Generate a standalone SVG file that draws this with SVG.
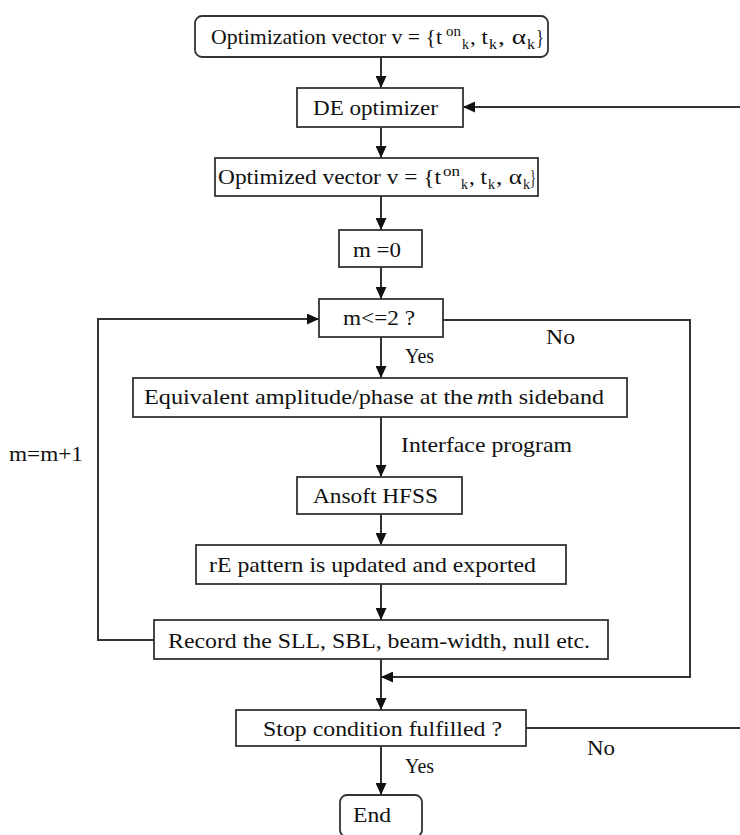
<svg xmlns="http://www.w3.org/2000/svg" width="740" height="835" viewBox="0 0 740 835">
<defs>
<marker id="ah" markerUnits="userSpaceOnUse" markerWidth="13" markerHeight="11" refX="12" refY="5.5" orient="auto">
<path d="M0,0 L12,5.5 L0,11 z" fill="#111"/>
</marker>
<style>
.box{fill:#fff;stroke:#333;stroke-width:1.8}
text{font-family:'Liberation Serif','DejaVu Serif',serif;fill:#111}
.t{font-size:22px}
.l{font-size:21px}
.sm{font-size:14px}
.c{fill:none;stroke:#333;stroke-width:2}
.a{marker-end:url(#ah)}
</style>
</defs>
<rect width="740" height="835" fill="#fff"/>
<g id="connectors">
<path class="c a" d="M381,57 V88"/>
<path class="c a" d="M740,107 H463"/>
<path class="c a" d="M381,127 V158"/>
<path class="c a" d="M381,196 V230"/>
<path class="c a" d="M381,267 V299"/>
<path class="c a" d="M381,337 V378"/>
<path class="c a" d="M381,417 V477"/>
<path class="c a" d="M381,514 V545"/>
<path class="c a" d="M381,584 V620"/>
<path class="c a" d="M381,659 V710"/>
<path class="c a" d="M154,640 H98 V319 H319"/>
<path class="c a" d="M443,320 H690 V677 H381"/>
<path class="c" d="M526,728 H740"/>
<path class="c a" d="M381,746 V795"/>
<text class="l" x="405" y="363" textLength="29" lengthAdjust="spacingAndGlyphs">Yes</text>
<text class="l" x="546" y="344" textLength="29" lengthAdjust="spacingAndGlyphs">No</text>
<text class="l" x="401" y="452" textLength="171" lengthAdjust="spacingAndGlyphs">Interface program</text>
<text class="l" x="9" y="461" textLength="74" lengthAdjust="spacingAndGlyphs">m=m+1</text>
<text class="l" x="405" y="773" textLength="29" lengthAdjust="spacingAndGlyphs">Yes</text>
<text class="l" x="587" y="755" textLength="28" lengthAdjust="spacingAndGlyphs">No</text>
</g>
<g id="start">
<rect class="box" x="195" y="16" width="353" height="41" rx="7"/>
<text class="t" x="211" y="44" textLength="231" lengthAdjust="spacingAndGlyphs">Optimization vector v = {t</text>
<text class="sm" x="446" y="36" textLength="15" lengthAdjust="spacingAndGlyphs">on</text>
<text class="sm" x="462" y="49" textLength="7" lengthAdjust="spacingAndGlyphs">k</text>
<text class="t" x="470" y="44" textLength="18" lengthAdjust="spacingAndGlyphs">, t</text>
<text class="sm" x="489" y="49" textLength="8" lengthAdjust="spacingAndGlyphs">k</text>
<text class="t" x="498" y="44" textLength="28" lengthAdjust="spacingAndGlyphs">, α</text>
<text class="sm" x="527" y="49" textLength="8" lengthAdjust="spacingAndGlyphs">k</text>
<text class="t" x="536" y="44" textLength="8" lengthAdjust="spacingAndGlyphs">}</text>
</g>
<g id="de">
<rect class="box" x="297" y="88" width="166" height="39"/>
<text class="t" x="313" y="115" textLength="125" lengthAdjust="spacingAndGlyphs">DE optimizer</text>
</g>
<g id="optimized">
<rect class="box" x="215" y="158" width="323" height="38"/>
<text class="t" x="218" y="184" textLength="223" lengthAdjust="spacingAndGlyphs">Optimized vector v = {t</text>
<text class="sm" x="443" y="176" textLength="17" lengthAdjust="spacingAndGlyphs">on</text>
<text class="sm" x="461" y="189" textLength="7" lengthAdjust="spacingAndGlyphs">k</text>
<text class="t" x="469" y="184" textLength="18" lengthAdjust="spacingAndGlyphs">, t</text>
<text class="sm" x="488" y="189" textLength="7" lengthAdjust="spacingAndGlyphs">k</text>
<text class="t" x="496" y="184" textLength="26" lengthAdjust="spacingAndGlyphs">, α</text>
<text class="sm" x="523" y="189" textLength="7" lengthAdjust="spacingAndGlyphs">k</text>
<text class="t" x="530" y="184" textLength="6" lengthAdjust="spacingAndGlyphs">}</text>
</g>
<g id="m0">
<rect class="box" x="339" y="230" width="83" height="37"/>
<text class="t" x="353" y="257" textLength="48" lengthAdjust="spacingAndGlyphs">m =0</text>
</g>
<g id="mcheck">
<rect class="box" x="319" y="299" width="124" height="38"/>
<text class="t" x="343" y="325" textLength="72" lengthAdjust="spacingAndGlyphs">m&lt;=2 ?</text>
</g>
<g id="equivalent">
<rect class="box" x="133" y="378" width="494" height="39"/>
<text class="t" x="144" y="404" textLength="329" lengthAdjust="spacingAndGlyphs">Equivalent amplitude/phase at the</text>
<text class="t" x="477" y="404" textLength="17" lengthAdjust="spacingAndGlyphs" font-style="italic">m</text>
<text class="t" x="494" y="404" textLength="110" lengthAdjust="spacingAndGlyphs">th sideband</text>
</g>
<g id="hfss">
<rect class="box" x="297" y="477" width="165" height="37"/>
<text class="t" x="313" y="503" textLength="125" lengthAdjust="spacingAndGlyphs">Ansoft HFSS</text>
</g>
<g id="pattern">
<rect class="box" x="196" y="545" width="370" height="39"/>
<text class="t" x="209" y="572" textLength="327" lengthAdjust="spacingAndGlyphs">rE pattern is updated and exported</text>
</g>
<g id="record">
<rect class="box" x="154" y="620" width="454" height="39"/>
<text class="t" x="168" y="648" textLength="422" lengthAdjust="spacingAndGlyphs">Record the SLL, SBL, beam-width, null etc.</text>
</g>
<g id="stop">
<rect class="box" x="236" y="710" width="290" height="36"/>
<text class="t" x="263" y="736" textLength="239" lengthAdjust="spacingAndGlyphs">Stop condition fulfilled ?</text>
</g>
<g id="end">
<rect class="box" x="340" y="795" width="82" height="42" rx="7"/>
<text class="t" x="353" y="822" textLength="38" lengthAdjust="spacingAndGlyphs">End</text>
</g>
</svg>
